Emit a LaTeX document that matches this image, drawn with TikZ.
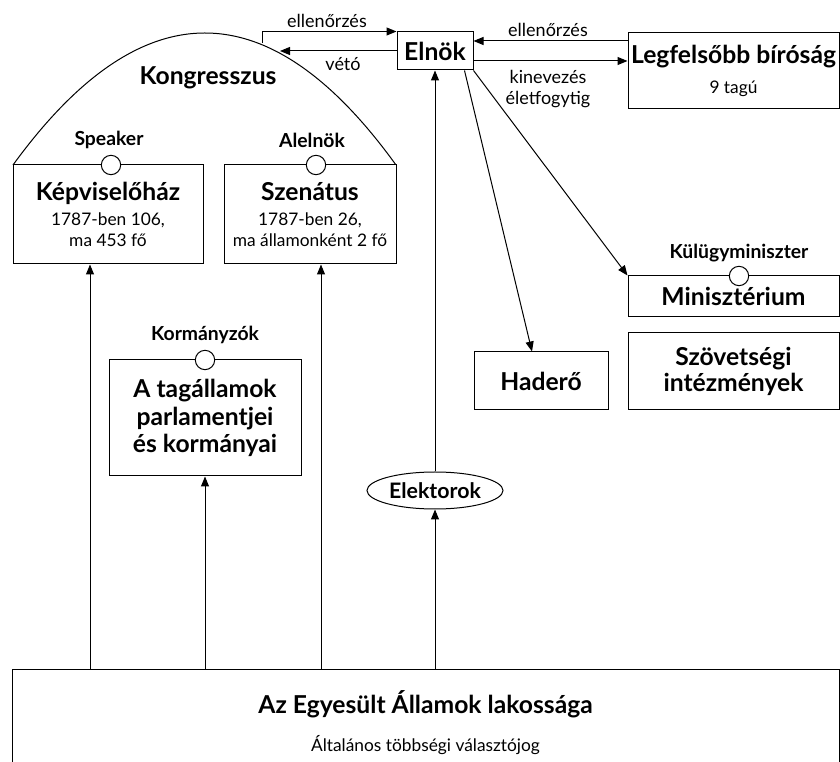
\documentclass[tikz,border=0pt]{standalone}
\usepackage{fontspec}
\setmainfont{Lato}
\usetikzlibrary{arrows.meta,shapes.geometric}

\newcommand{\boxttl}[1]{{\bfseries\fontsize{18.5}{21}\selectfont #1}}
\newcommand{\boxsub}[1]{{\fontsize{13}{16}\selectfont #1}}

\tikzset{every picture/.style={line width=0.75pt}}
\tikzset{
	box/.style={draw, rectangle, fill=white, inner sep=0pt, align=center, font=\fontsize{13}{16}\selectfont},
	knob/.style={draw, circle, fill=white, inner sep=0pt, minimum size=14.5pt},
	head/.style={font=\bfseries\fontsize{14.5}{17}\selectfont, inner sep=0.75pt},
	note/.style={font=\fontsize{13.5}{15}\selectfont, inner sep=0.75pt},
	conn/.style={-{Triangle[length=7.5pt,width=6pt]}},
}

\begin{document}
\begin{tikzpicture}[x=0.75pt,y=0.75pt,yscale=-1,xscale=1]
	\clip (0,0) rectangle (840,762);
	
	% Congress dome
	\draw (13,165) .. controls (141,-11) and (269,-11) .. (396,165) ;
	\draw (208,78) node [font=\bfseries\fontsize{18.5}{21}\selectfont] (kongr) {Kongresszus};
	
	% Houses
	\draw (108,214.5) node [box, minimum width=142.5pt, minimum height=74.25pt] (kepv) {\boxttl{Képviselőház}\\[3pt]1787-ben 106,\\ma 453 fő};
	\draw (310,214.5) node [box, minimum width=129pt, minimum height=74.25pt] (szen) {\boxttl{Szenátus}\\[3pt]1787-ben 26,\\ma államonként 2 fő};
	\draw (111,165) node [knob] (speakerk) {};
	\draw (316,165) node [knob] (alelnokk) {};
	\draw (109,140) node [head] (speaker) {Speaker};
	\draw (312,140) node [head] (alelnok) {Alelnök};
	
	% States
	\draw (205,418) node [box, minimum width=144pt, minimum height=87pt, font=\bfseries\fontsize{18.5}{20.6}\selectfont] (tag) {A tagállamok\\parlamentjei\\és kormányai};
	\draw (205,360) node [knob] (kormk) {};
	\draw (205,335) node [head] (korm) {Kormányzók};
	
	% President and court
	\draw (435,51) node [box, minimum width=57pt, minimum height=28.5pt, font=\bfseries\fontsize{18.5}{21}\selectfont] (elnok) {Elnök};
	\draw (733.5,71) node [box, minimum width=158.25pt, minimum height=57pt] (court) {\boxttl{Legfelsőbb bíróság}\\[7pt]9 tagú};
	
	% Executive
	\draw (733.5,296.5) node [box, minimum width=158.25pt, minimum height=30.75pt] (minis) {\boxttl{Minisztérium}};
	\draw (739,276) node [knob] (kulugyk) {};
	\draw (739,253) node [head] (kulugy) {Külügyminiszter};
	\draw (541,381) node [box, minimum width=100.5pt, minimum height=43.5pt] (hadero) {\boxttl{Haderő}};
	\draw (733.5,371.5) node [box, minimum width=158.25pt, minimum height=57.75pt, font=\bfseries\fontsize{18.5}{20}\selectfont] (szov) {Szövetségi\\intézmények};
	
	% Electors and people
	\draw (435,490.5) node [draw, ellipse, inner sep=0pt, minimum width=102pt, minimum height=27.75pt, font=\bfseries\fontsize{16}{18}\selectfont] (elek) {Elektorok};
	\draw (425.5,669) node [box, anchor=north, minimum width=620.25pt, minimum height=79.5pt] (pop) {\boxttl{Az Egyesült Államok lakossága}\\[13pt]Általános többségi választójog};
	
	% Free ends
	\coordinate (ellk) at (262,43);
	\coordinate (vetok) at (280,51);
	\coordinate (colk) at (90,0);
	\coordinate (cols) at (321,0);
	\coordinate (rowa) at (0,41);
	\coordinate (rowb) at (0,61);
	
	% Connection
	\draw [conn] (pop.north -| colk) -- (kepv.south -| colk) ;
	\draw [conn] (pop.north -| cols) -- (szen.south -| cols) ;
	\draw [conn] (pop.north -| tag.south) -- (tag.south) ;
	\draw [conn] (pop.north -| elek.south) -- (elek.south) ;
	\draw [conn] (elek.north) -- (elnok.south) ;
	% Connection
	\draw [conn] (ellk) -- (ellk |- elnok.north) -- (elnok.north west) ;
	\draw [conn] (elnok.west) -- (vetok) ;
	\draw [conn] (court.west |- rowa) -- (elnok.east |- rowa) ;
	\draw [conn] (elnok.east |- rowb) -- (court.west |- rowb) ;
	% Connection
	\draw [conn] ([xshift=-6.75pt]elnok.south east) -- ([xshift=-6.75pt]hadero.north) ;
	\draw [conn] (elnok.south east) -- (minis.north west) ;
	
	% Text Node
	\draw (327,21) node [note] (ell1) {ellenőrzés};
	\draw (343,64) node [note] (veto) {vétó};
	\draw (548,30) node [note] (ell2) {ellenőrzés};
	\draw (548,77) node [note] (kinev) {kinevezés};
	\draw (548,100) node [note] (elet) {életfogytig};
	
\end{tikzpicture}
\end{document}
